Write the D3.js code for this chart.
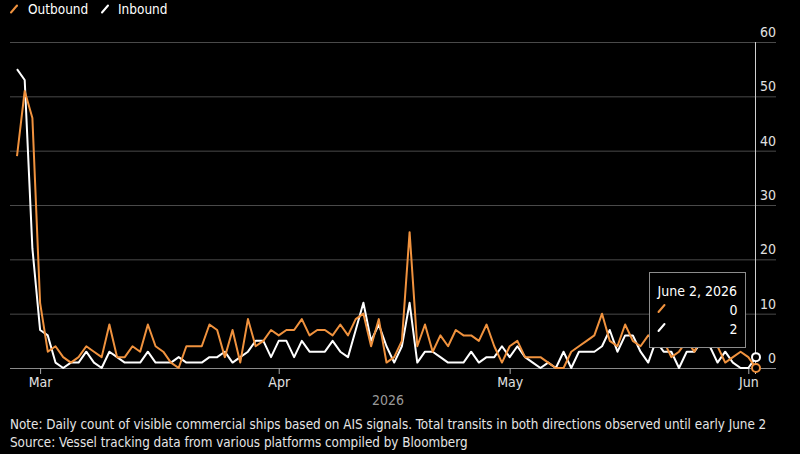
<!DOCTYPE html>
<html>
<head>
<meta charset="utf-8">
<script src="https://cdn.jsdelivr.net/npm/d3@7"></script>
<style>
  html, body { margin: 0; padding: 0; background: #000; }
  svg { display: block; }
  text { font-family: "Liberation Sans Narrow", "DejaVu Sans Condensed", "Liberation Sans", sans-serif; }
</style>
</head>
<body>
<div id="chart"></div>
<script>
const WIDTH = 800;
const HEIGHT = 454;
const ORANGE = "#f0923e";

// daily counts, Feb 26 2026 .. Jun 2 2026
const outbound = [
  39, 51, 46, 12, 3, 4, 2, 1, 2, 4, 3, 2, 8, 2, 2, 4, 3, 8, 4, 3,
  1, 0, 4, 4, 4, 8, 7, 2, 7, 1, 9, 4, 5, 7, 6, 7, 7, 9, 6, 7,
  7, 6, 8, 6, 9, 10, 4, 9, 1, 2, 5, 25, 4, 8, 3, 6, 4, 7, 6, 6,
  5, 8, 4, 1, 4, 5, 2, 2, 2, 1, 0, 0, 3, 4, 5, 6, 10, 5, 4, 8,
  5, 4, 6, 5, 5, 2, 3, 5, 3, 6, 5, 4, 1, 2, 3, 2, 0
];
const inbound = [
  55, 53, 22, 7, 6, 1, 0, 1, 1, 3, 1, 0, 3, 2, 1, 1, 1, 3, 1, 1,
  1, 2, 1, 1, 1, 2, 2, 3, 1, 2, 3, 5, 5, 2, 5, 5, 2, 5, 3, 3,
  3, 5, 3, 2, 7, 12, 5, 8, 4, 1, 4, 12, 1, 3, 3, 2, 1, 1, 1, 3,
  1, 2, 2, 4, 2, 4, 2, 1, 0, 1, 0, 3, 0, 3, 3, 3, 4, 7, 3, 6,
  6, 3, 1, 5, 3, 3, 0, 3, 3, 5, 4, 1, 3, 1, 0, 0, 2
];
const seriesNames = ["Outbound", "Inbound"];
const yTicks = [0, 10, 20, 30, 40, 50, 60];
const monthTicks = ["2026-03-01", "2026-04-01", "2026-05-01", "2026-06-01"];
const yearLabel = "2026";
const hoverLabel = "June 2, 2026";
const noteText = "Note: Daily count of visible commercial ships based on AIS signals. Total transits in both directions observed until early June 2";
const sourceText = "Source: Vessel tracking data from various platforms compiled by Bloomberg";

const startDate = new Date(2026, 1, 26);
const endDate = new Date(2026, 5, 2);
const days = d3.timeDay.range(startDate, d3.timeDay.offset(endDate, 1));

let svg = d3.select("#chart")
            .append("svg")
            .attr("width", WIDTH)
            .attr("height", HEIGHT);

let x = d3.scaleTime()
          .domain([startDate, endDate])
          .range([17, 756]);

let y = d3.scaleLinear()
          .domain([0, 60])
          .range([368, 42]);

// gridlines + y labels
svg.selectAll(".grid")
   .data(yTicks)
   .enter().append("line")
   .attr("x1", 10)
   .attr("x2", 776)
   .attr("y1", d => y(d) + 0.5)
   .attr("y2", d => y(d) + 0.5)
   .attr("stroke", d => d == 0 ? "#8a8a8a" : "#4a4a4a")
   .attr("stroke-width", 1);

svg.selectAll(".ylab")
   .data(yTicks)
   .enter().append("text")
   .attr("x", 776)
   .attr("y", d => y(d) - 5)
   .attr("text-anchor", "end")
   .attr("fill", "#e0e0e0")
   .attr("font-size", 14)
   .text(d => d);

// x axis ticks
let monthDates = monthTicks.map(d => d3.timeParse("%Y-%m-%d")(d));
let xAxis = d3.axisBottom(x)
              .tickValues(monthDates)
              .tickFormat(d3.timeFormat("%b"))
              .tickSize(6)
              .tickPadding(3);

let axisG = svg.append("g")
               .attr("transform", "translate(0,368)")
               .call(xAxis);
axisG.select(".domain").remove();
axisG.selectAll("line").attr("stroke", "#aaa");
axisG.selectAll("text")
     .attr("fill", "#e0e0e0")
     .attr("font-size", 14)
     .style("font-family", "\"Liberation Sans Narrow\", \"DejaVu Sans Condensed\", sans-serif");

svg.append("text")
   .attr("x", 388)
   .attr("y", 405)
   .attr("text-anchor", "middle")
   .attr("fill", "#9a9a9a")
   .attr("font-size", 14)
   .text(yearLabel);

// lines
let line = d3.line()
             .x((d, i) => x(days[i]))
             .y(d => y(d));

svg.append("path")
   .datum(inbound)
   .attr("d", line)
   .attr("fill", "none")
   .attr("stroke", "#fff")
   .attr("stroke-width", 2)
   .attr("stroke-linejoin", "round");

svg.append("path")
   .datum(outbound)
   .attr("d", line)
   .attr("fill", "none")
   .attr("stroke", ORANGE)
   .attr("stroke-width", 2)
   .attr("stroke-linejoin", "round");

// legend
function slash(g, cx, cy, color) {
    g.append("line")
     .attr("x1", cx - 3).attr("y1", cy + 3.5)
     .attr("x2", cx + 3).attr("y2", cy - 3.5)
     .attr("stroke", color)
     .attr("stroke-width", 2)
     .attr("stroke-linecap", "round");
}

let legend = svg.append("g");
slash(legend, 14, 9, ORANGE);
legend.append("text").attr("x", 28).attr("y", 13.5)
      .attr("fill", "#fff").attr("font-size", 13.5).text(seriesNames[0]);
slash(legend, 105, 9, "#fff");
legend.append("text").attr("x", 118).attr("y", 13.5)
      .attr("fill", "#fff").attr("font-size", 13.5).text(seriesNames[1]);

// hover crosshair + markers
let last = days.length - 1;
let hx = x(days[last]);
svg.append("line")
   .attr("x1", hx - 0.5).attr("x2", hx - 0.5)
   .attr("y1", 42).attr("y2", 374)
   .attr("stroke", "#cfcfcf")
   .attr("stroke-width", 1);

svg.append("circle")
   .attr("cx", hx).attr("cy", y(inbound[last]))
   .attr("r", 4)
   .attr("fill", "#000")
   .attr("stroke", "#fff")
   .attr("stroke-width", 2);

svg.append("circle")
   .attr("cx", hx).attr("cy", y(outbound[last]))
   .attr("r", 4)
   .attr("fill", "#000")
   .attr("stroke", ORANGE)
   .attr("stroke-width", 2);

// tooltip box
let tip = svg.append("g").attr("transform", "translate(649.5,272.5)");
tip.append("rect")
   .attr("width", 96).attr("height", 75)
   .attr("fill", "#000")
   .attr("stroke", "#8c8c8c")
   .attr("stroke-width", 1);
tip.append("text").attr("x", 8).attr("y", 23)
   .attr("fill", "#fff").attr("font-size", 14).text(hoverLabel);
slash(tip, 12, 36, ORANGE);
tip.append("text").attr("x", 88).attr("y", 42).attr("text-anchor", "end")
   .attr("fill", "#fff").attr("font-size", 14).text(outbound[last]);
slash(tip, 12, 55, "#fff");
tip.append("text").attr("x", 88).attr("y", 61).attr("text-anchor", "end")
   .attr("fill", "#fff").attr("font-size", 14).text(inbound[last]);

// footnotes
svg.append("text")
   .attr("x", 10).attr("y", 429)
   .attr("fill", "#e6e6e6").attr("font-size", 13.35)
   .text(noteText);
svg.append("text")
   .attr("x", 10).attr("y", 447)
   .attr("fill", "#e6e6e6").attr("font-size", 13.35)
   .text(sourceText);
</script>
</body>
</html>
